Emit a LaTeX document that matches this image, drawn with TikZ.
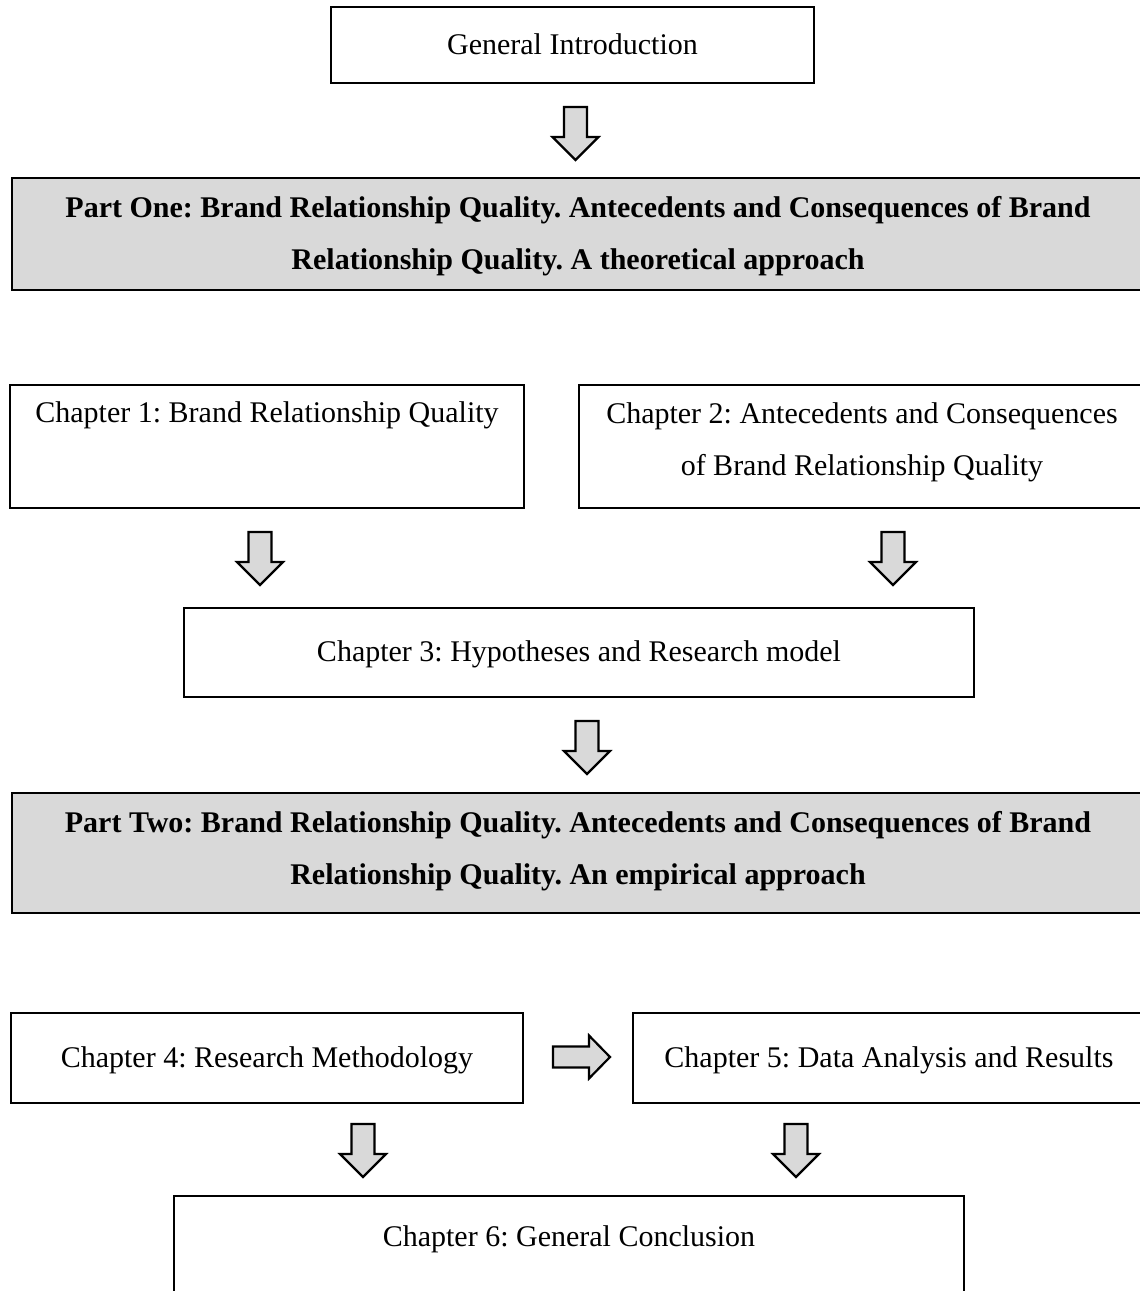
\documentclass[tikz,border=0pt]{standalone}
\usepackage{fontspec}
\setmainfont{Liberation Serif}
\usetikzlibrary{calc}
\definecolor{partgray}{HTML}{D9D9D9}
\frenchspacing
\begin{document}
\begin{tikzpicture}[x=1pt,y=-1pt,
  box/.style={draw=black,line width=1.6pt,rectangle,inner sep=0pt,fill=white},
  partbox/.style={box,fill=partgray},
  txt/.style={font=\fontsize{30}{52}\selectfont\frenchspacing,align=center,inner sep=0pt,text height=0.7em,text depth=0.22em,yshift=-7pt},
  txttwo/.style={font=\fontsize{30}{52}\selectfont\frenchspacing,align=center,inner sep=0pt},
  boldtxt/.style={font=\fontsize{30}{52}\selectfont\bfseries\frenchspacing,align=center,inner sep=0pt},
  arrstyle/.style={draw=black,line width=2.2pt,fill=partgray,line join=miter},
  downarr/.pic={\draw[arrstyle] (-11.5,0) -- (11.5,0) -- (11.5,30) -- (23,30) -- (0,53) -- (-23,30) -- (-11.5,30) -- cycle;},
  rightarr/.pic={\draw[arrstyle] (0,-10.5) -- (36,-10.5) -- (36,-21.5) -- (57,0) -- (36,21.5) -- (36,10.5) -- (0,10.5) -- cycle;}
]
\useasboundingbox (0,0) rectangle (1140,1291);
\clip (0,0) rectangle (1140,1291);

% boxes
\node[box,minimum width=483pt,minimum height=76pt] (gi) at (572.5,45) {};
\node[txt] (tgi) at (gi.center) {General Introduction};

\node[partbox,minimum width=1132pt,minimum height=112pt] (p1) at (578,234) {};
\node[boldtxt] (tp1) at (578,236) {Part One: Brand Relationship Quality. Antecedents and Consequences of Brand\\Relationship Quality. A theoretical approach};

\node[box,minimum width=514pt,minimum height=123pt] (c1) at (267,446.5) {};
\node[txt] (tc1) at (267,413) {Chapter 1: Brand Relationship Quality};

\node[box,minimum width=566pt,minimum height=123pt] (c2) at (862,446.5) {};
\node[txttwo] (tc2) at (862,442) {Chapter 2: Antecedents and Consequences\\of Brand Relationship Quality};

\node[box,minimum width=790pt,minimum height=89pt] (c3) at (579,652.5) {};
\node[txt] (tc3) at (c3.center) {Chapter 3: Hypotheses and Research model};

\node[partbox,minimum width=1132pt,minimum height=120pt] (p2) at (578,853) {};
\node[boldtxt] (tp2) at (578,851) {Part Two: Brand Relationship Quality. Antecedents and Consequences of Brand\\Relationship Quality. An empirical approach};

\node[box,minimum width=512pt,minimum height=90pt] (c4) at (267,1058) {};
\node[txt] (tc4) at (c4.center) {Chapter 4: Research Methodology};

\node[box,minimum width=512pt,minimum height=90pt] (c5) at (889,1058) {};
\node[txt] (tc5) at (c5.center) {Chapter 5: Data Analysis and Results};

\node[box,minimum width=790pt,minimum height=114pt] (c6) at (569,1253) {};
\node[txt] (tc6) at (569,1237) {Chapter 6: General Conclusion};

% block arrows
\pic (a1) at (575.5,107) {downarr};
\pic (a2) at (260,532) {downarr};
\pic (a3) at (893,532) {downarr};
\pic (a4) at (587,721) {downarr};
\pic (a5) at (363,1124) {downarr};
\pic (a6) at (796,1124) {downarr};
\pic (a7) at (553,1057) {rightarr};
\end{tikzpicture}
\end{document}
